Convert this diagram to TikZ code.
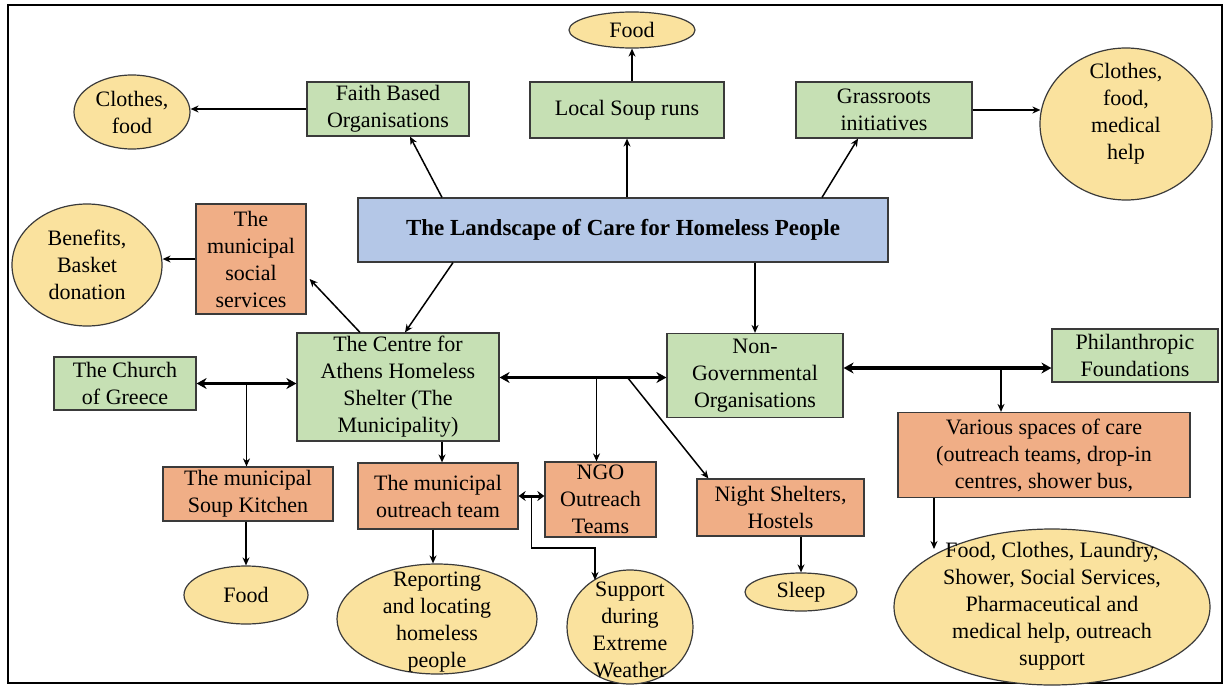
\documentclass[tikz,border=0pt]{standalone}
\usepackage{fontspec}
\setmainfont{Liberation Serif}
\usetikzlibrary{shapes.geometric,arrows.meta,calc}
\definecolor{gfill}{HTML}{C6E0B4}
\definecolor{ofill}{HTML}{F0AE86}
\definecolor{bfill}{HTML}{B4C7E7}
\definecolor{yfill}{HTML}{FAE29E}
\definecolor{bordc}{HTML}{3A3A3A}
\newcommand\bodyfont{\fontsize{22}{27}\selectfont}
\tikzset{
  box/.style={draw=bordc, line width=1.2pt, inner sep=0pt, align=center, font=\bodyfont},
  gbox/.style={box, fill=gfill},
  obox/.style={box, fill=ofill},
  ell/.style={ellipse, draw=bordc, line width=1.2pt, fill=yfill, inner sep=0pt},
  txt/.style={align=center, font=\bodyfont, inner sep=0pt},
  arr/.style={-{Stealth[length=8pt,width=7pt]}, line width=1.5pt},
  darr/.style={{Stealth[length=10pt,width=11pt]}-{Stealth[length=10pt,width=11pt]}, line width=3.2pt},
}
\begin{document}
\begin{tikzpicture}[x=1pt,y=-1pt]
\useasboundingbox (0,0) rectangle (1231,688);
\fill[white] (0,0) rectangle (1231,688);
\draw[line width=1.6pt] (8,5) rectangle (1222,683);

% top row
\node[ell, minimum width=126pt, minimum height=36pt] (food1) at (632,30) {};
\node[txt] (food1T) at (food1) {Food};
\node[gbox, minimum width=162pt, minimum height=54pt] (faith) at (388,109) {Faith Based\\Organisations};
\node[gbox, minimum width=194pt, minimum height=56pt] (soup) at (627,110) {Local Soup runs};
\node[gbox, minimum width=176pt, minimum height=56pt] (grass) at (884,110) {Grassroots\\initiatives};
\node[ell, minimum width=116pt, minimum height=74pt] (cf1) at (132,112) {};
\node[txt] (cf1T) at (cf1) {Clothes,\\food};
\node[ell, minimum width=172pt, minimum height=152pt] (cfm) at (1126,124) {};
\node[txt] (cfmT) at (1126,114) {Clothes,\\food,\\medical\\help};

% centre title
\node[box, fill=bfill, minimum width=530pt, minimum height=64pt, font=\bfseries\fontsize{23}{27}\selectfont] (land) at (623,230) {The Landscape of Care for Homeless People};

% middle row
\node[ell, minimum width=150pt, minimum height=122pt] (ben) at (87,265) {};
\node[txt] (benT) at (ben) {Benefits,\\Basket\\donation};
\node[obox, minimum width=110pt, minimum height=110pt] (soc) at (251,259) {The\\municipal\\social\\services};
\node[gbox, minimum width=202pt, minimum height=108pt] (centre) at (398,387) {The Centre for\\Athens Homeless\\Shelter (The\\Municipality)};
\node[gbox, minimum width=142pt, minimum height=53pt] (church) at (125,383.5) {The Church\\of Greece};
\node[gbox, minimum width=176pt, minimum height=84pt] (ngo) at (755,375.5) {Non-\\Governmental\\Organisations};
\node[gbox, minimum width=166pt, minimum height=53pt] (phil) at (1135,355.5) {Philanthropic\\Foundations};
\node[obox, minimum width=292pt, minimum height=85pt] (var) at (1044,455) {Various spaces of care\\(outreach teams, drop-in\\centres, shower bus,};

% lower row
\node[obox, minimum width=170pt, minimum height=54pt] (mkit) at (248,494) {The municipal\\Soup Kitchen};
\node[obox, minimum width=160pt, minimum height=66pt] (mout) at (438,496) {The municipal\\outreach team};
\node[obox, minimum width=111pt, minimum height=75pt] (ngoout) at (600.5,499.5) {NGO\\Outreach\\Teams};
\node[obox, minimum width=167pt, minimum height=57pt] (night) at (780.5,507.5) {Night Shelters,\\Hostels};

% bottom ellipses
\node[ell, minimum width=124pt, minimum height=58pt] (food2) at (246,595) {};
\node[txt] (food2T) at (food2) {Food};
\node[ell, minimum width=200pt, minimum height=110pt] (rep) at (437,619) {};
\node[txt] (repT) at (437,622) {Reporting\\and locating\\homeless\\people};
\node[ell, minimum width=126pt, minimum height=114pt] (sup) at (630,627) {};
\node[txt] (supT) at (630,630) {Support\\during\\Extreme\\Weather};
\node[ell, minimum width=112pt, minimum height=38pt] (sleep) at (801,592) {};
\node[txt] (sleepT) at (sleep) {Sleep};
\node[ell, minimum width=316pt, minimum height=156pt] (big) at (1052,607) {};
\node[txt] (bigT) at (1052,606) {Food, Clothes, Laundry,\\Shower, Social Services,\\Pharmaceutical and\\medical help, outreach\\support};

% connectors from title
\draw[arr] ([xshift=-181pt]land.north) -- ([xshift=22pt]faith.south);
\draw[arr] (soup.south |- land.north) -- (soup.south);
\draw[arr] ([xshift=199pt]land.north) -- ([xshift=-26pt]grass.south);
\draw[arr] (faith.west) -- (faith.west -| cf1.east);
\draw[arr] (food1.south |- soup.north) -- (food1.south);
\draw[arr] (grass.east) -- ([xshift=1pt]grass.east -| cfm.west);
\draw[arr] ([xshift=-170pt]land.south) -- ([xshift=7pt]centre.north);
\draw[arr] ([xshift=-38pt]centre.north) -- ([xshift=3pt,yshift=-20pt]soc.east);
\draw[arr] (soc.west) -- (soc.west -| ben.east);
\draw[arr] (ngo.north |- land.south) -- (ngo.north);

% thick links
\draw[darr] (church.east) -- (church.east -| centre.west);
\coordinate (cc) at ($(church.east)!0.5!(church.east -| centre.west)$);
\draw[arr] (cc) -- (cc |- mkit.north);

\draw[darr] ([yshift=-2pt]centre.east |- ngo.west) -- ([yshift=-2pt]ngo.west);
\coordinate (cn) at ([xshift=-4pt,yshift=-2pt]ngoout.north |- ngo.west);
\draw[arr] (cn) -- (cn |- ngoout.north);
\coordinate (cn2) at ($(cn)+(31,0)$);
\draw[arr] (cn2) -- ([xshift=12pt]night.north west);

\coordinate (np) at ([yshift=7.5pt]ngo.east);
\draw[darr] (np) -- (np -| phil.west);
\coordinate (vtop) at ([xshift=-43pt]var.north);
\draw[arr] (vtop |- np) -- (vtop);

\coordinate (mo) at ([xshift=4pt]mout.north);
\draw[arr] (mo |- centre.south) -- (mo);

\draw[{Stealth[length=7pt,width=10pt]}-{Stealth[length=7pt,width=10pt]}, line width=3pt] (mout.east) -- (mout.east -| ngoout.west);
\coordinate (mm) at ($(mout.east)!0.5!(mout.east -| ngoout.west)$);
\coordinate (bend) at ($(mm)+(0,52)$);
\coordinate (sj) at ($(sup.center)+(-35,-47)$);
\draw[arr] (mm) -- (bend) -| (sj);

\draw[arr] (food2.north |- mkit.south) -- (food2.north);
\draw[arr] ([xshift=-4pt]rep.north |- mout.south) -- ([xshift=-4pt]rep.north);
\draw[arr] (sleep.north |- night.south) -- (sleep.north);
\coordinate (vb) at ([xshift=-110pt]var.south);
\coordinate (bj) at ($(big.center)+(-118,-58)$);
\draw[arr] (vb) -- (vb |- bj);
\end{tikzpicture}
\end{document}
